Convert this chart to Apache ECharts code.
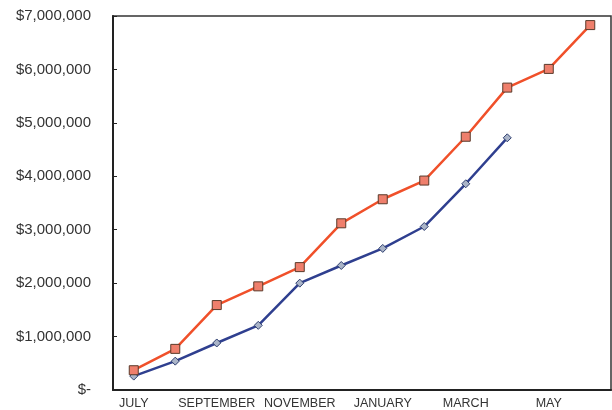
<!DOCTYPE html>
<html>
<head>
<meta charset="utf-8">
<script src="https://cdn.jsdelivr.net/npm/echarts@6/dist/echarts.min.js"></script>
<style>
  html, body { margin: 0; padding: 0; background: #fff; }
  #chart { width: 612px; height: 410px; }
</style>
</head>
<body>
<div id="chart"></div>
<script>
const months = ['JULY', 'AUGUST', 'SEPTEMBER', 'OCTOBER', 'NOVEMBER', 'DECEMBER',
  'JANUARY', 'FEBRUARY', 'MARCH', 'APRIL', 'MAY', 'JUNE'];
// orange line, squares
const seriesA = [370000, 770000, 1590000, 1940000, 2300000, 3120000,
  3570000, 3920000, 4740000, 5660000, 6010000, 6830000];
// blue line, diamonds (stops in April)
const seriesB = [260000, 540000, 880000, 1210000, 2000000, 2330000,
  2650000, 3060000, 3860000, 4720000];
const yTicks = [0, 1000000, 2000000, 3000000, 4000000, 5000000, 6000000, 7000000];

const chart = echarts.init(document.getElementById('chart'));

function money(v) {
  if (v === 0) return '$-';
  return '$' + v.toLocaleString('en-US');
}

chart.setOption({
  animation: false,
  backgroundColor: '#fff',
  grid: {
    left: 113, right: 1, top: 16, bottom: 19,
    show: true, borderColor: '#333', borderWidth: 1.5
  },
  xAxis: {
    type: 'category',
    data: months,
    boundaryGap: true,
    axisLine: { lineStyle: { color: '#222', width: 2 } },
    axisTick: { alignWithLabel: true, inside: true, length: 4, interval: 0, lineStyle: { color: '#222' } },
    axisLabel: {
      interval: 1, color: '#333', fontSize: 12.5, margin: 7,
      fontFamily: 'Liberation Sans, Arial, sans-serif'
    }
  },
  yAxis: {
    type: 'value',
    min: yTicks[0],
    max: yTicks[yTicks.length - 1],
    interval: 1000000,
    splitLine: { show: false },
    axisLine: { show: true, lineStyle: { color: '#222', width: 2 } },
    axisTick: { show: true, inside: true, length: 4, lineStyle: { color: '#222' } },
    axisLabel: {
      formatter: money, color: '#333', fontSize: 15, margin: 22,
      fontFamily: 'Liberation Sans, Arial, sans-serif'
    }
  },
  series: [
    {
      type: 'line',
      data: seriesA,
      symbol: 'rect',
      symbolSize: 9,
      lineStyle: { color: '#f0502a', width: 2.5 },
      itemStyle: { color: '#ef7f6c', borderColor: '#5a3a2a', borderWidth: 1 },
      z: 3
    },
    {
      type: 'line',
      data: seriesB,
      symbol: 'diamond',
      symbolSize: 8,
      lineStyle: { color: '#2f3f8f', width: 2.5 },
      itemStyle: { color: '#aab4c8', borderColor: '#2f3f6f', borderWidth: 1 },
      z: 2
    }
  ]
});
</script>
</body>
</html>
